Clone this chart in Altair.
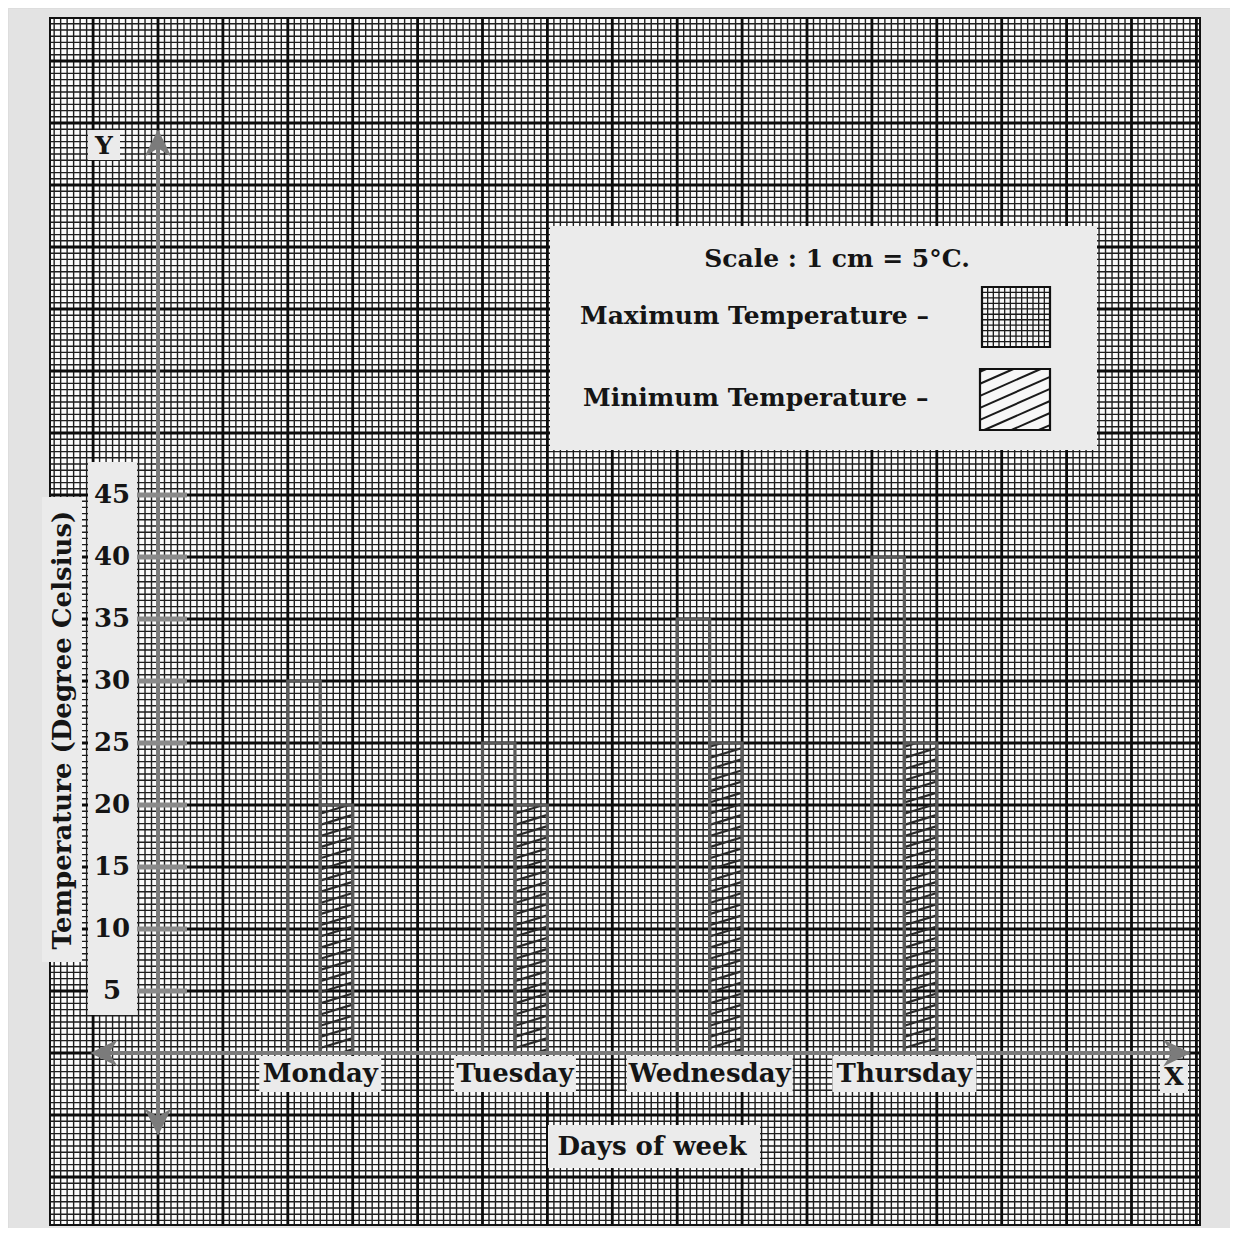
import altair as alt
import numpy as np
import pandas as pd

# ---------------- data ----------------
days = ["Monday", "Tuesday", "Wednesday", "Thursday"]
max_temp = [30, 25, 35, 40]
min_temp = [20, 20, 25, 25]
y_ticks = [45, 40, 35, 30, 25, 20, 15, 10, 5]
y_title = "Temperature (Degree Celsius)"
x_title = "Days of week"
legend_scale = "Scale :  1 cm = 5°C."
legend_labels = ["Maximum Temperature –", "Minimum Temperature –"]

# ---------------- layout (page pixels -> chart units) ----------------
W, H = 1222, 1220
M = 8
AX_X = 158.0   # page x of the Y axis
UX = 64.9      # px per 1 cm square horizontally
BASE_Y = 1053.0
UY = 12.4      # px per degree (1 cm = 5 degrees)


def dx(p):
    return (p - AX_X) / UX


def dy(p):
    return (BASE_Y - p) / UY


sx = alt.Scale(domain=[dx(M), dx(M + W)], nice=False, zero=False)
sy = alt.Scale(domain=[dy(M + H), dy(M)], nice=False, zero=False)


def X(f="x"):
    return alt.X(f"{f}:Q", scale=sx, axis=None)


def Y(f="y"):
    return alt.Y(f"{f}:Q", scale=sy, axis=None)


def rects(df, **kw):
    return alt.Chart(df).mark_rect(**kw).encode(
        x=X(), x2=alt.X2("x2:Q"), y=Y(), y2=alt.Y2("y2:Q"))


def segs(df, **kw):
    return alt.Chart(df).mark_rule(**kw).encode(
        x=X(), x2=alt.X2("x2:Q"), y=Y(), y2=alt.Y2("y2:Q"))


def texts(df, **kw):
    return alt.Chart(df).mark_text(**kw).encode(x=X(), y=Y(), text="t:N")


def hatch(x0, x1, y0, y1, m, step, phase=0.0):
    w = x1 - x0
    rows = []
    c = y0 - m * w + phase
    while c < y1:
        tlo = max(0.0, (y0 - c) / (m * w))
        thi = min(1.0, (y1 - c) / (m * w))
        if thi > tlo:
            rows.append(dict(x=x0 + w * tlo, x2=x0 + w * thi,
                             y=c + m * w * tlo, y2=c + m * w * thi))
        c += step
    return rows


FONT = "DejaVu Serif"
INK = "#151515"
BOX = "#ebebeb"
AXC = "#7b7b7b"

layers = []

# paper
PX0, PX1, PY0, PY1 = dx(50), dx(1200), dy(1225), dy(18)
layers.append(rects(pd.DataFrame([dict(x=PX0, x2=PX1, y=PY0, y2=PY1)]),
                    fill="#fbfbfb"))

# graph-paper grid
vx = [k / 10 for k in range(int(np.ceil(PX0 * 10)), int(np.floor(PX1 * 10)) + 1)]
hy = [j / 2 for j in range(int(np.ceil(PY0 * 2)), int(np.floor(PY1 * 2)) + 1)]
minor_v = [dict(x=v, x2=v, y=PY0, y2=PY1) for v in vx if round(v * 10) % 10 != 0]
major_v = [dict(x=v, x2=v, y=PY0, y2=PY1) for v in vx if round(v * 10) % 10 == 0]
minor_h = [dict(x=PX0, x2=PX1, y=v, y2=v) for v in hy if round(v * 2) % 10 != 0]
major_h = [dict(x=PX0, x2=PX1, y=v, y2=v) for v in hy if round(v * 2) % 10 == 0]
layers.append(segs(pd.DataFrame(minor_v + minor_h), color="#1e1e1e", strokeWidth=1.4))
layers.append(segs(pd.DataFrame(major_v + major_h), color="#0c0c0c", strokeWidth=2.8))
# paper border
layers.append(rects(pd.DataFrame([dict(x=PX0, x2=PX1, y=PY0, y2=PY1)]),
                    fill="transparent", stroke="#111111", strokeWidth=2))

# label boxes
boxes = [
    dict(x=dx(550), x2=dx(1097), y=dy(450), y2=dy(226)),   # legend
    dict(x=dx(88), x2=dx(120), y=dy(160), y2=dy(130)),     # Y
    dict(x=dx(1160), x2=dx(1188), y=dy(1093), y2=dy(1060)),  # X
    dict(x=dx(548), x2=dx(760), y=dy(1168), y2=dy(1125)),  # Days of week
    dict(x=dx(88), x2=dx(137), y=dy(1015), y2=dy(462)),    # tick labels
    dict(x=dx(42), x2=dx(82), y=dy(962), y2=dy(497)),      # y title
]
day_half_px = [61, 61, 83, 72]
day_center = [2.5 + 3 * i for i in range(len(days))]
for c, hw in zip(day_center, day_half_px):
    boxes.append(dict(x=c - hw / UX, x2=c + hw / UX, y=dy(1092), y2=dy(1056)))
layers.append(rects(pd.DataFrame(boxes), fill=BOX))

# legend swatches
sw_max = dict(x=dx(982), x2=dx(1050), y=dy(347), y2=dy(287))
sw_min = dict(x=dx(980), x2=dx(1050), y=dy(430), y2=dy(369))
layers.append(rects(pd.DataFrame([sw_max, sw_min]), fill="#f7f7f7"))
sg = []
for k in range(1, 12):
    xv = sw_max["x"] + (sw_max["x2"] - sw_max["x"]) * k / 12
    sg.append(dict(x=xv, x2=xv, y=sw_max["y"], y2=sw_max["y2"]))
for k in range(1, 11):
    yv = sw_max["y"] + (sw_max["y2"] - sw_max["y"]) * k / 11
    sg.append(dict(x=sw_max["x"], x2=sw_max["x2"], y=yv, y2=yv))
layers.append(segs(pd.DataFrame(sg), color="#1a1a1a", strokeWidth=1.3))
layers.append(segs(pd.DataFrame(hatch(sw_min["x"], sw_min["x2"], sw_min["y"], sw_min["y2"],
                                      2.31, 0.97, 0.4)), color="#1a1a1a", strokeWidth=2))
layers.append(rects(pd.DataFrame([sw_max, sw_min]), fill="transparent",
                    stroke="#111111", strokeWidth=2.2))

# bars
bar_rows = []
hatch_rows = []
for i, d in enumerate(days):
    x0 = 2 + 3 * i
    bar_rows.append(dict(day=d, series="Maximum", x=x0, x2=x0 + 0.5, y=0, y2=max_temp[i]))
    bar_rows.append(dict(day=d, series="Minimum", x=x0 + 0.5, x2=x0 + 1.0, y=0, y2=min_temp[i]))
    hatch_rows += hatch(x0 + 0.5, x0 + 1.0, 0, min_temp[i], 1.6, 0.9, 0.3)
layers.append(segs(pd.DataFrame(hatch_rows), color="#2a2a2a", strokeWidth=2.2))
layers.append(rects(pd.DataFrame(bar_rows), fill="transparent", stroke="#5a5a5a",
                    strokeWidth=3.2))

# axes
axes = [dict(x=0, x2=0, y=dy(1128), y2=dy(140)),
        dict(x=dx(98), x2=dx(1182), y=0, y2=0)]
layers.append(segs(pd.DataFrame(axes), color=AXC, strokeWidth=4))
ticks = [dict(x=dx(137), x2=dx(187), y=v, y2=v) for v in y_ticks]
layers.append(segs(pd.DataFrame(ticks), color="#8a8a8a", strokeWidth=5))
arrows = pd.DataFrame([
    dict(x=0, y=dy(145), a=0),
    dict(x=0, y=dy(1120), a=180),
    dict(x=dx(106), y=0, a=270),
    dict(x=dx(1175), y=0, a=90),
])
layers.append(alt.Chart(arrows).mark_point(
    shape="M0,-1L0.85,0.75L0,0.2L-0.85,0.75Z", size=1000, filled=True,
    color=AXC, opacity=1).encode(x=X(), y=Y(), angle=alt.Angle("a:Q", scale=None)))

# texts
layers.append(texts(pd.DataFrame([dict(x=dx(112), y=v, t=str(v)) for v in y_ticks]),
                    font=FONT, fontWeight="bold", fontSize=26, color=INK,
                    align="center", baseline="middle"))
layers.append(texts(pd.DataFrame([dict(x=c, y=dy(1074), t=d) for c, d in zip(day_center, days)]),
                    font=FONT, fontWeight="bold", fontSize=26, color=INK,
                    align="center", baseline="middle"))
layers.append(texts(pd.DataFrame([dict(x=dx(652), y=dy(1147), t=x_title)]),
                    font=FONT, fontWeight="bold", fontSize=26, color=INK,
                    align="center", baseline="middle"))
layers.append(texts(pd.DataFrame([dict(x=dx(63), y=dy(730), t=y_title)]),
                    font=FONT, fontWeight="bold", fontSize=26, color=INK,
                    align="center", baseline="middle", angle=270))
layers.append(texts(pd.DataFrame([dict(x=dx(104), y=dy(146), t="Y"),
                                  dict(x=dx(1174), y=dy(1077), t="X")]),
                    font=FONT, fontWeight="bold", fontSize=25, color=INK,
                    align="center", baseline="middle"))
layers.append(texts(pd.DataFrame([dict(x=dx(837), y=dy(259), t=legend_scale)]),
                    font=FONT, fontWeight="bold", fontSize=25, color=INK,
                    align="center", baseline="middle"))
layers.append(texts(pd.DataFrame([dict(x=dx(580), y=dy(316), t=legend_labels[0]),
                                  dict(x=dx(583), y=dy(398), t=legend_labels[1])]),
                    font=FONT, fontWeight="bold", fontSize=25, color=INK,
                    align="left", baseline="middle"))

chart = alt.layer(*layers).properties(
    width=W, height=H, padding=0,
    autosize=alt.AutoSizeParams(type="none"),
).configure_view(strokeWidth=0).configure(background="#e3e3e3")

chart.save("out.html", embed_options={"renderer": "svg", "actions": False})
